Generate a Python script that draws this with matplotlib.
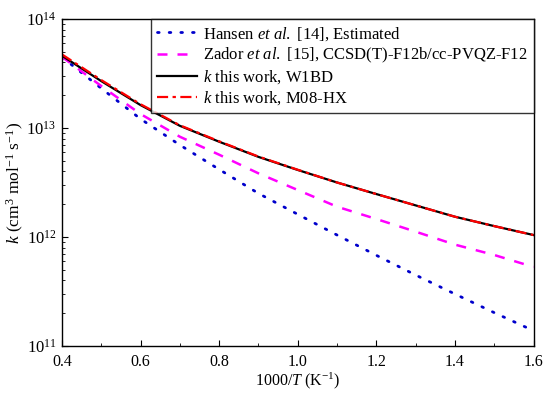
import numpy as np
import matplotlib
matplotlib.use("Agg")
import matplotlib.pyplot as plt

plt.rcParams['font.family'] = ['Liberation Serif', 'DejaVu Serif']
plt.rcParams['mathtext.fontset'] = 'custom'
plt.rcParams['mathtext.rm'] = 'Liberation Serif'
plt.rcParams['mathtext.it'] = 'Liberation Serif:italic'
plt.rcParams['mathtext.bf'] = 'Liberation Serif:bold'

# 1000/T values
x = [0.4, 0.5, 0.6, 0.7, 0.8, 0.9, 1.0, 1.1, 1.2, 1.3, 1.4, 1.5, 1.6]

# log10(k)
hansen = [13.65, 13.364, 13.083, 12.844, 12.62, 12.40, 12.208, 12.018, 11.832, 11.651, 11.477, 11.306, 11.14]
zador = [13.653, 13.385, 13.128, 12.92, 12.755, 12.584, 12.431, 12.278, 12.165, 12.049, 11.93, 11.835, 11.725]
w1bd = [13.663, 13.43, 13.21, 13.02, 12.874, 12.735, 12.615, 12.50, 12.394, 12.29, 12.186, 12.10, 12.018]
m08 = [13.675, 13.44, 13.218, 13.025, 12.878, 12.738, 12.617, 12.50, 12.394, 12.29, 12.186, 12.10, 12.018]

x = np.array(x)
hansen = 10 ** np.array(hansen)
zador = 10 ** np.array(zador)
w1bd = 10 ** np.array(w1bd)
m08 = 10 ** np.array(m08)

fig = plt.figure(figsize=(5.5, 3.96), dpi=100)
ax = fig.add_axes([0.1127, 0.1263, 0.8573, 0.8257])

ax.plot(x, hansen, color='#0000cc', lw=2, linestyle=(0, (0.6, 3.6)),
        dash_capstyle='round', label='Hansen $\\it{et\\ al.}$ [14], Estimated')
ax.plot(x, zador, color='#ff00ff', lw=1.8, linestyle=(0, (4, 4)),
        label='Zador $\\it{et\\ al.}$ [15], CCSD(T)-F12b/cc-PVQZ-F12')
ax.plot(x, w1bd, color='black', lw=1.6, label='$\\it{k}$ this work, W1BD')
ax.plot(x, m08, color='red', lw=1.6, linestyle=(0, (5, 2, 1.5, 2)),
        label='$\\it{k}$ this work, M08-HX')

ax.set_yscale('log')
ax.set_xlim(0.4, 1.6)
ax.set_ylim(1e11, 1e14)
ax.set_xticks([0.4, 0.6, 0.8, 1.0, 1.2, 1.4, 1.6])
ax.set_xticks([0.5, 0.7, 0.9, 1.1, 1.3, 1.5], minor=True)
ax.set_xticklabels(['0.4', '0.6', '0.8', '1.0', '1.2', '1.4', '1.6'])
ax.tick_params(which='both', direction='in', labelsize=11.5, top=False, right=False)
ax.tick_params(which='major', length=4)
ax.tick_params(which='minor', length=2.5)
ax.tick_params(axis='x', pad=6)
ax.tick_params(axis='y', labelsize=12, pad=4)

ax.set_xlabel('1000/$\\it{T}$ (K$^{-1}$)', fontsize=11.5, labelpad=0)
ax.set_ylabel('$\\it{k}$ (cm$^{3}$ mol$^{-1}$ s$^{-1}$)', fontsize=12.5, labelpad=0)

leg = ax.legend(loc='upper right', fontsize=12, frameon=True, fancybox=False,
                edgecolor='black', borderaxespad=0, handlelength=2.4,
                handletextpad=0.35, labelspacing=0.2, borderpad=0.35)
leg.get_frame().set_linewidth(1.0)

for s in ax.spines.values():
    s.set_linewidth(1.0)

fig.savefig('out.png', dpi=100)
